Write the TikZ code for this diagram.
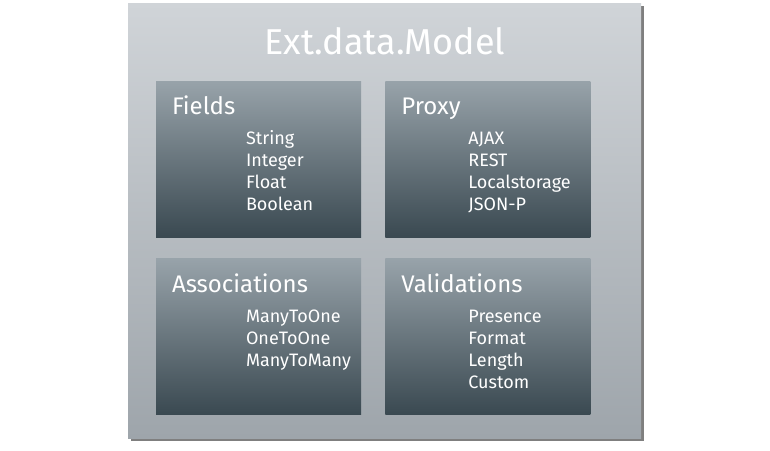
\documentclass[tikz,border=0pt]{standalone}
\usepackage{fontspec}
\setmainfont{Fira Sans}
\usetikzlibrary{positioning,shadows}

\definecolor{modeltop}{RGB}{208,212,216}
\definecolor{modelbottom}{RGB}{158,165,171}
\definecolor{grouptop}{RGB}{152,163,170}
\definecolor{groupbottom}{RGB}{58,73,81}

\begin{document}
\begin{tikzpicture}[x=1pt, y=-1pt, node distance=24pt,
	model/.style={rectangle, minimum width=513pt, minimum height=435pt, inner sep=0pt,
		top color=modeltop, bottom color=modelbottom,
		drop shadow={shadow xshift=3pt, shadow yshift=-3pt, opacity=0.5, fill=black}},
	group/.style={rectangle, minimum width=205pt, minimum height=156pt, inner sep=0pt,
		top color=grouptop, bottom color=groupbottom},
	title/.style={text=white, font=\fontsize{36}{40}\selectfont, inner sep=0pt},
	head/.style={text=white, font=\fontsize{24}{28}\selectfont, inner sep=0pt, anchor=base west},
	entry/.style={text=white, font=\fontsize{18}{22}\selectfont, inner sep=0pt, anchor=base west}]
	\useasboundingbox (0,0) rectangle (770,450);

	% Outer box and title
	\node [model] (model) at (384.5,220.5) {};
	\node [title, anchor=base] (title) at (385,54) {Ext.data.Model};

	% Group boxes {fields, proxy, associations, validations}
	\node [group] (fields) at (258.5,159) {};
	\node [group] (proxy)        [right=24pt of fields] {};
	\node [group] (associations) [below=21pt of fields] {};
	\node [group] (validations)  [below=21pt of proxy]  {};

	% Headings
	\node [head] (fieldshead) at ([xshift=16pt, yshift=-34pt] fields.north west)       {Fields};
	\node [head] (proxyhead)  at ([xshift=16pt, yshift=-34pt] proxy.north west)        {Proxy};
	\node [head] (assochead)  at ([xshift=16pt, yshift=-34pt] associations.north west) {Associations};
	\node [head] (validhead)  at ([xshift=16pt, yshift=-34pt] validations.north west)  {Validations};

	% Entries, one line each
	\foreach \txt [count=\i] in {String, Integer, Float, Boolean}
		\node [entry] (field\i) at ([xshift=90pt, yshift=-42pt-22pt*\i] fields.north west) {\txt};
	\foreach \txt [count=\i] in {AJAX, REST, Localstorage, JSON-P}
		\node [entry] (proxy\i) at ([xshift=83pt, yshift=-42pt-22pt*\i] proxy.north west) {\txt};
	\foreach \txt [count=\i] in {ManyToOne, OneToOne, ManyToMany}
		\node [entry] (assoc\i) at ([xshift=90pt, yshift=-42pt-22pt*\i] associations.north west) {\txt};
	\foreach \txt [count=\i] in {Presence, Format, Length, Custom}
		\node [entry] (valid\i) at ([xshift=83pt, yshift=-42pt-22pt*\i] validations.north west) {\txt};

\end{tikzpicture}
\end{document}
